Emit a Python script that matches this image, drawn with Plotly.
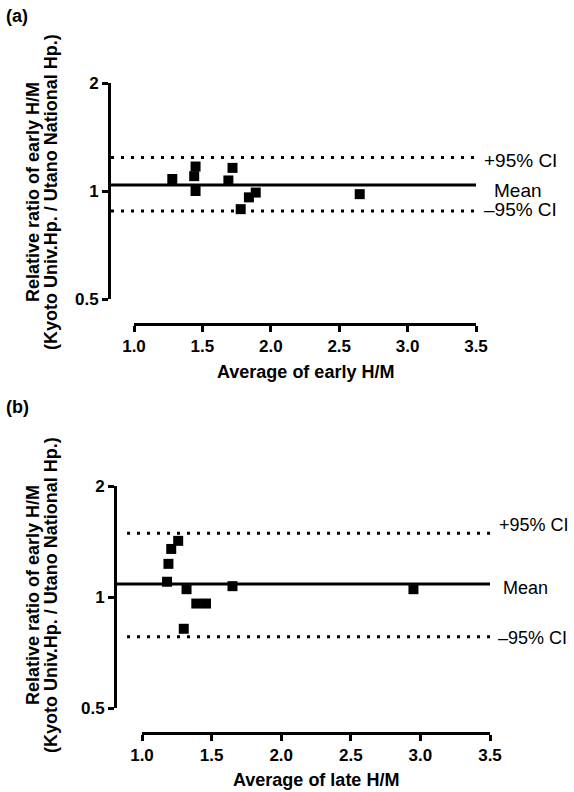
import math
import plotly.graph_objects as go

# ---------------- data ----------------
# Panel (a): early H/M
a_avg = [1.28, 1.45, 1.44, 1.45, 1.72, 1.69, 1.89, 1.84, 1.78, 2.65]
a_ratio = [1.08, 1.17, 1.10, 1.00, 1.16, 1.07, 0.99, 0.96, 0.89, 0.98]
a_mean = 1.04
a_ci_upper = 1.24
a_ci_lower = 0.88

# Panel (b): late H/M
b_avg = [1.18, 1.19, 1.21, 1.26, 1.32, 1.30, 1.39, 1.46, 1.65, 2.95]
b_ratio = [1.10, 1.23, 1.35, 1.42, 1.05, 0.82, 0.96, 0.96, 1.07, 1.05]
b_mean = 1.085
b_ci_upper = 1.49
b_ci_lower = 0.78

x_tickvals = [1.0, 1.5, 2.0, 2.5, 3.0, 3.5]
x_ticktext = ["1.0", "1.5", "2.0", "2.5", "3.0", "3.5"]
y_tickvals = [0.5, 1, 2]
y_ticktext = ["0.5", "1", "2"]

# ---------------- layout helpers ----------------
W, H = 574, 792
FONT = "Liberation Sans, Arial, Helvetica, sans-serif"


def fx(p):
    return p / W


def fy(p):
    return 1 - p / H


fig = go.Figure()

panels = [
    dict(x=a_avg, y=a_ratio, mean=a_mean, up=a_ci_upper, lo=a_ci_lower,
         xa="x", ya="y", xkey="xaxis", ykey="yaxis",
         yaxis_x=109, y_top=83, y_bot=299, x_left=134, x_right=476, xaxis_y=324,
         dot_start=111, label_x=(482, 492, 482), shifts=(-3, -6, 1), lab_size=19,
         xtitle="Average of early H/M", xtitle_y=372, xtitle_x=305,
         tag="(a)", tag_y=16, ytitle_c=192),
    dict(x=b_avg, y=b_ratio, mean=b_mean, up=b_ci_upper, lo=b_ci_lower,
         xa="x2", ya="y2", xkey="xaxis2", ykey="yaxis2",
         yaxis_x=115, y_top=486, y_bot=708, x_left=142, x_right=490, xaxis_y=733,
         dot_start=127, label_x=(497, 501, 496), shifts=(8, -4, -1), lab_size=18,
         xtitle="Average of late H/M", xtitle_y=780, xtitle_x=316,
         tag="(b)", tag_y=407, ytitle_c=595),
]

for p in panels:
    fig.add_trace(go.Scatter(
        x=p["x"], y=p["y"], mode="markers", xaxis=p["xa"], yaxis=p["ya"],
        marker=dict(symbol="square", size=10, color="black"),
        showlegend=False, hoverinfo="skip"))

    fig.layout[p["xkey"]] = dict(
        domain=[fx(p["x_left"]), fx(p["x_right"])], range=[1.0, 3.5],
        anchor="free", position=fy(p["xaxis_y"]),
        showline=True, linecolor="black", linewidth=3,
        ticks="outside", ticklen=6, tickwidth=3, tickcolor="black",
        tickvals=x_tickvals, ticktext=x_ticktext,
        tickfont=dict(family=FONT, size=17, color="black", weight="bold"),
        showgrid=False, zeroline=False, fixedrange=True)
    fig.layout[p["ykey"]] = dict(
        domain=[fy(p["y_bot"]), fy(p["y_top"])], type="log",
        range=[math.log10(0.5), math.log10(2)],
        anchor="free", position=fx(p["yaxis_x"]),
        showline=True, linecolor="black", linewidth=3,
        ticks="outside", ticklen=6, tickwidth=3, tickcolor="black",
        tickvals=y_tickvals, ticktext=y_ticktext,
        tickfont=dict(family=FONT, size=17, color="black", weight="bold"),
        showgrid=False, zeroline=False, fixedrange=True)

    # mean (solid) and 95% CI (dotted) lines
    fig.add_shape(type="line", xref="paper", yref=p["ya"],
                  x0=fx(p["yaxis_x"]), x1=fx(p["x_right"]), y0=p["mean"], y1=p["mean"],
                  line=dict(color="black", width=3))
    for v in (p["up"], p["lo"]):
        fig.add_shape(type="line", xref="paper", yref=p["ya"],
                      x0=fx(p["dot_start"]), x1=fx(p["x_right"]), y0=v, y1=v,
                      line=dict(color="black", width=3, dash="3px,7px"))

    for txt, v, sh, lx in (("+95% CI", p["up"], p["shifts"][0], p["label_x"][0]),
                           ("Mean", p["mean"], p["shifts"][1], p["label_x"][1]),
                           ("–95% CI", p["lo"], p["shifts"][2], p["label_x"][2])):
        fig.add_annotation(text=txt, xref="paper", yref=p["ya"], x=fx(lx), y=math.log10(v),
                           xanchor="left", yanchor="middle", yshift=sh, showarrow=False,
                           font=dict(family=FONT, size=p["lab_size"], color="black"))

    # x-axis title
    fig.add_annotation(text="<b>" + p["xtitle"] + "</b>", xref="paper", yref="paper",
                       x=fx(p["xtitle_x"]), y=fy(p["xtitle_y"]), xanchor="center", yanchor="middle",
                       showarrow=False, font=dict(family=FONT, size=18, color="black"))
    # y-axis title (two lines)
    fig.add_annotation(text="<b>Relative ratio of early H/M</b>", xref="paper", yref="paper",
                       x=fx(33), y=fy(p["ytitle_c"]), xanchor="center", yanchor="middle",
                       textangle=-90, showarrow=False, font=dict(family=FONT, size=18, color="black"))
    fig.add_annotation(text="<b>(Kyoto Univ.Hp. / Utano National Hp.)</b>", xref="paper", yref="paper",
                       x=fx(51), y=fy(p["ytitle_c"]), xanchor="center", yanchor="middle",
                       textangle=-90, showarrow=False, font=dict(family=FONT, size=18, color="black"))
    # panel tag
    fig.add_annotation(text="<b>" + p["tag"] + "</b>", xref="paper", yref="paper",
                       x=fx(4), y=fy(p["tag_y"]), xanchor="left", yanchor="middle",
                       showarrow=False, font=dict(family=FONT, size=18, color="black"))

fig.update_layout(
    width=W, height=H,
    margin=dict(l=0, r=0, t=0, b=0, autoexpand=False),
    paper_bgcolor="white", plot_bgcolor="white",
    showlegend=False,
)

fig.write_html("out.html", config={"displayModeBar": False},
               post_script="document.body.style.margin='0';document.body.style.overflow='hidden';")
